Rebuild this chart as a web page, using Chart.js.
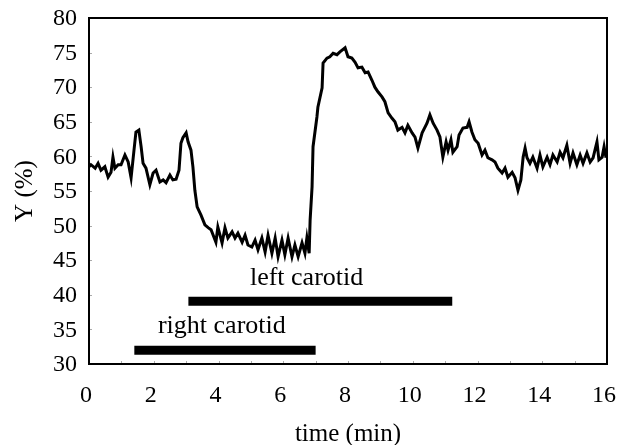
<!DOCTYPE html>
<html>
<head>
<meta charset="utf-8">
<script src="https://cdn.jsdelivr.net/npm/chart.js@4/dist/chart.umd.min.js"></script>
<style>
html,body{margin:0;padding:0;background:#fff;}
#wrap{width:617px;height:445px;position:relative;}
</style>
</head>
<body>
<div id="wrap"><canvas id="c" width="617" height="445"></canvas></div>
<script>
// ---- data ----
const timeMin = [0,0.06,0.19,0.28,0.37,0.49,0.59,0.68,0.74,0.80,0.90,0.99,1.11,1.21,1.30,1.39,1.45,1.54,1.61,1.67,1.76,1.88,1.98,2.07,2.19,2.29,2.38,2.50,2.59,2.69,2.78,2.84,2.90,3.00,3.06,3.15,3.21,3.27,3.34,3.46,3.58,3.68,3.77,3.92,3.98,4.11,4.20,4.29,4.42,4.51,4.60,4.73,4.82,4.91,5.03,5.13,5.22,5.34,5.44,5.53,5.65,5.75,5.84,5.96,6.05,6.15,6.27,6.36,6.46,6.58,6.67,6.73,6.80,6.83,6.89,6.92,7.04,7.07,7.20,7.23,7.35,7.44,7.54,7.66,7.75,7.91,8.00,8.12,8.22,8.31,8.43,8.53,8.62,8.74,8.83,8.93,9.05,9.14,9.24,9.36,9.45,9.54,9.67,9.76,9.85,9.98,10.07,10.16,10.29,10.44,10.53,10.63,10.75,10.84,10.93,11.03,11.09,11.18,11.24,11.37,11.43,11.55,11.68,11.74,11.83,11.92,12.02,12.14,12.23,12.32,12.45,12.54,12.63,12.76,12.85,12.94,13.07,13.16,13.25,13.34,13.41,13.47,13.53,13.62,13.71,13.84,13.93,14.02,14.15,14.24,14.33,14.46,14.55,14.64,14.76,14.86,14.95,15.07,15.17,15.26,15.38,15.48,15.57,15.69,15.75,15.85,15.91,15.97];
const yPercent = [58.5,58.8,58.3,59.0,58.0,58.5,57.0,57.7,59.9,58.3,58.8,58.8,60.2,59.2,56.9,60.9,63.5,63.8,61.4,59.0,58.3,55.9,57.6,58.0,56.3,56.6,56.2,57.3,56.6,56.7,58.0,61.9,62.7,63.4,62.1,60.9,58.5,55.1,52.7,51.5,50.1,49.7,49.4,47.6,49.8,47.5,49.7,48.2,49.1,48.2,48.9,47.6,48.6,47.2,46.9,47.9,46.5,48.2,46.2,48.6,46.0,48.2,45.5,47.9,45.8,48.2,45.5,47.2,45.5,47.5,46.0,48.2,46.0,50.8,55.6,61.4,65.7,67.1,69.9,73.5,74.2,74.4,74.9,74.7,75.1,75.7,74.4,74.2,73.6,72.8,72.9,72.1,72.2,71.0,70.0,69.3,68.6,67.9,66.3,65.5,65.0,63.8,64.2,63.4,64.5,63.4,62.8,61.2,63.4,64.8,66.0,64.8,63.8,62.8,59.9,62.1,60.9,62.4,60.6,61.4,63.1,64.1,64.2,65.0,63.5,62.4,61.9,60.2,60.9,59.8,59.5,59.2,58.3,57.6,58.3,57.0,57.7,56.9,55.1,56.6,59.9,61.2,59.8,59.0,59.9,58.3,60.2,58.5,59.9,58.8,60.2,59.2,60.6,59.8,61.6,59.0,60.5,58.8,60.2,59.0,60.5,59.2,59.8,62.1,59.5,59.9,61.4,59.8];

const xTicks = [0,2,4,6,8,10,12,14,16];
const yTicks = [30,35,40,45,50,55,60,65,70,75,80];

// occlusion periods (minutes) and the level they are drawn at (Y %)
const leftCarotidMin = [3.07, 11.22];
const leftCarotidLevel = 39.05;
const rightCarotidMin = [1.40, 7.00];
const rightCarotidLevel = 31.98;

// annotation labels: text, start time, baseline level
const labelTexts = ["left carotid", "right carotid"];
const labelTime = [4.97, 2.13];
const labelLevel = [41.4, 34.5];

const FONT = "'Liberation Serif', 'Times New Roman', serif";

const series = timeMin.map((t, i) => ({x: t, y: yPercent[i]}));

const framePlugin = {
  id: 'frame',
  afterDraw(chart) {
    const {ctx, chartArea: a, scales} = chart;
    ctx.save();
    // faint inward minor ticks
    ctx.strokeStyle = '#aaa';
    ctx.lineWidth = 1;
    for (let t = 1; t < 16; t++) {
      const x = Math.round(scales.x.getPixelForValue(t)) + 0.5;
      ctx.beginPath(); ctx.moveTo(x, a.bottom); ctx.lineTo(x, a.bottom - 3); ctx.stroke();
    }
    for (let v = 35; v < 80; v += 5) {
      const y = Math.round(scales.y.getPixelForValue(v)) + 0.5;
      ctx.beginPath(); ctx.moveTo(a.left, y); ctx.lineTo(a.left + 3, y); ctx.stroke();
    }
    // frame
    ctx.strokeStyle = '#000';
    ctx.lineWidth = 2;
    ctx.strokeRect(a.left, a.top, a.right - a.left, a.bottom - a.top);
    // labels
    ctx.fillStyle = '#000';
    ctx.font = "26px " + FONT;
    ctx.textAlign = 'left';
    ctx.textBaseline = 'alphabetic';
    labelTexts.forEach((txt, i) => {
      ctx.fillText(txt, scales.x.getPixelForValue(labelTime[i]), scales.y.getPixelForValue(labelLevel[i]));
    });
    ctx.restore();
  }
};

new Chart(document.getElementById('c'), {
  type: 'line',
  data: {
    datasets: [
      {data: series, borderColor: '#000', borderWidth: 3, pointRadius: 0, tension: 0, fill: false, borderJoinStyle: 'miter', order: 2},
      {data: [{x: leftCarotidMin[0], y: leftCarotidLevel}, {x: leftCarotidMin[1], y: leftCarotidLevel}], borderColor: '#000', borderWidth: 9, borderCapStyle: 'butt', pointRadius: 0, fill: false},
      {data: [{x: rightCarotidMin[0], y: rightCarotidLevel}, {x: rightCarotidMin[1], y: rightCarotidLevel}], borderColor: '#000', borderWidth: 9, borderCapStyle: 'butt', pointRadius: 0, fill: false}
    ]
  },
  options: {
    responsive: false,
    animation: false,
    layout: {padding: {left: 5, right: 10, top: 18, bottom: 0}},
    plugins: {legend: {display: false}, tooltip: {enabled: false}},
    scales: {
      x: {
        type: 'linear', min: 0, max: 16,
        afterBuildTicks: s => { s.ticks = xTicks.map(v => ({value: v})); },
        afterFit: s => { s.height = 81; s.paddingLeft = 0; s.paddingRight = 0; },
        grid: {display: false, drawTicks: false},
        border: {display: false},
        ticks: {color: '#000', font: {family: FONT, size: 24}, padding: 17, maxRotation: 0, labelOffset: -3},
        title: {display: true, text: 'time (min)', color: '#000', font: {family: FONT, size: 25, lineHeight: 0.85}, padding: {top: 0, bottom: 0}}
      },
      y: {
        min: 30, max: 80,
        afterBuildTicks: s => { s.ticks = yTicks.map(v => ({value: v})); },
        afterFit: s => { s.width = 84; s.paddingTop = 0; s.paddingBottom = 0; },
        grid: {display: false, drawTicks: false},
        border: {display: false},
        ticks: {color: '#000', font: {family: FONT, size: 24}, padding: 12, labelOffset: 1},
        title: {display: true, text: 'Y (%)', color: '#000', font: {family: FONT, size: 25, lineHeight: 1.2}, padding: {top: 5, bottom: 0}}
      }
    }
  },
  plugins: [framePlugin]
});
</script>
</body>
</html>
